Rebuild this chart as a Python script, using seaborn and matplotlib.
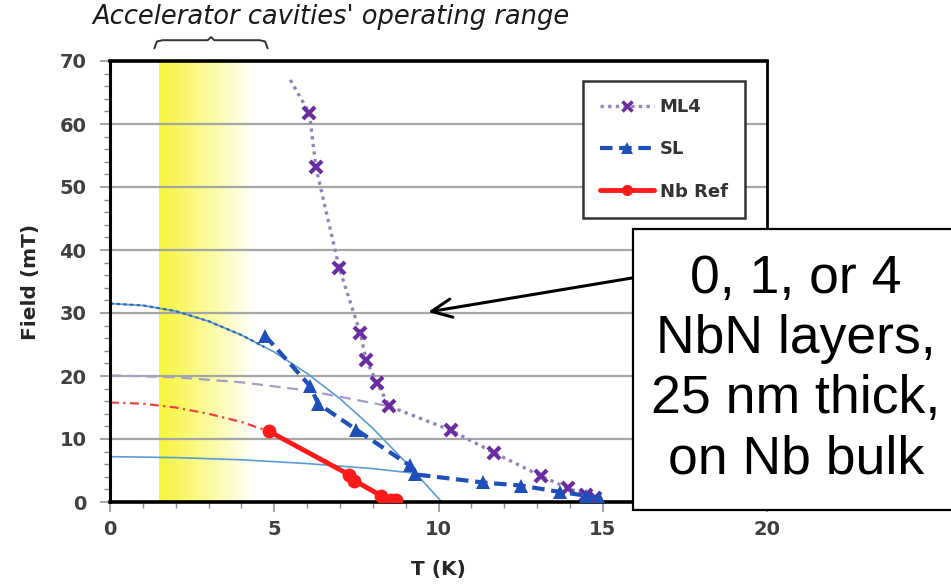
import matplotlib
matplotlib.use("Agg")
import matplotlib.pyplot as plt
import numpy as np
import seaborn as sns
from matplotlib.lines import Line2D
from matplotlib.patches import Rectangle
from matplotlib.colors import LinearSegmentedColormap

# ---- measured data -------------------------------------------------------
ml4_T = [6.07, 6.27, 6.98, 7.62, 7.80, 8.13, 8.50, 10.37, 11.70, 13.13, 13.94, 14.50, 14.75]
ml4_H = [61.7, 53.1, 37.1, 26.8, 22.5, 18.9, 15.2, 11.4, 7.8, 4.1, 2.2, 1.1, 0.7]
ml4_ext_T = [5.49, 6.07]
ml4_ext_H = [67.0, 61.7]

sl_T = [4.72, 6.09, 6.34, 7.49, 9.12, 9.27, 11.35, 12.52, 13.69, 14.50, 14.90]
sl_H = [26.4, 18.4, 15.6, 11.5, 5.8, 4.4, 3.1, 2.6, 1.6, 1.0, 0.6]

nb_T = [4.85, 7.29, 7.44, 8.25, 8.55, 8.70]
nb_H = [11.2, 4.3, 3.4, 1.0, 0.3, 0.3]

# critical-field curves H(T)
sl_fit_T = [0, 1, 2, 3, 4, 5, 6, 7, 8, 9, 10.1]
sl_fit_H = [31.5, 31.2, 30.3, 28.7, 26.5, 23.8, 20.4, 16.4, 11.7, 6.3, 0.0]
sl_fit_dotted_T = [0, 1, 2, 3, 4, 4.7]
sl_fit_dotted_H = [31.5, 31.2, 30.3, 28.7, 26.5, 24.6]
ml4_fit_T = [0, 2, 4, 6, 8, 8.5]
ml4_fit_H = [20.1, 19.8, 19.0, 17.7, 15.7, 15.2]
nb_fit_T = [0, 1, 2, 3, 4, 4.85]
nb_fit_H = [15.8, 15.6, 15.0, 14.0, 12.7, 11.2]
low_fit_T = [0, 2, 4, 6, 8, 9.2]
low_fit_H = [7.2, 7.05, 6.7, 6.1, 5.3, 4.6]

band_T = [1.5, 4.4]          # operating temperature range
brace_T = [1.35, 4.8]

series_labels = ["ML4", "SL", "Nb Ref"]
x_ticks = [0, 5, 10, 15, 20]
y_ticks = [0, 10, 20, 30, 40, 50, 60, 70]

# ---- styling -------------------------------------------------------------
sns.set_theme(style="white")
plt.rcParams["font.family"] = ["DejaVu Sans"]

C_ML4_LINE = "#9384bd"
C_ML4_MK = "#6a2ca0"
C_SL = "#1f4fb8"
C_NB = "#ff1a1a"
C_FIT_BLUE = "#5b9bd5"
C_FIT_BLUE_DARK = "#2e6db4"

fig = plt.figure(figsize=(9.51, 5.86), dpi=100)
ax = fig.add_axes([110 / 951, 1 - 502 / 586, (767 - 110) / 951, (502 - 61) / 586])
ax.set_xlim(0, 20)
ax.set_ylim(0, 70)

# operating-range band, yellow fading to white
cmap = LinearSegmentedColormap.from_list("band", ["#f8f53a", "#fbfa9a", "#ffffff"])
grad = np.linspace(0, 1, 256).reshape(1, -1)
ax.imshow(grad, cmap=cmap, extent=[band_T[0], band_T[1], 0, 70],
          aspect="auto", zorder=0, interpolation="bilinear")

# horizontal gridlines
for yv in y_ticks[1:-1]:
    ax.axhline(yv, color="#a6a6a6", lw=1.6, zorder=1)

# fitted curves
sns.lineplot(x=sl_fit_T, y=sl_fit_H, ax=ax, sort=False, estimator=None,
             color=C_FIT_BLUE, lw=1.2, zorder=2)
sns.lineplot(x=sl_fit_dotted_T, y=sl_fit_dotted_H, ax=ax, sort=False, estimator=None,
             color=C_FIT_BLUE_DARK, lw=1.6, linestyle=(0, (1.5, 1.5)), zorder=2)
sns.lineplot(x=ml4_fit_T, y=ml4_fit_H, ax=ax, sort=False, estimator=None,
             color="#a79cc6", lw=1.6, linestyle=(0, (5, 3)), zorder=2)
sns.lineplot(x=nb_fit_T, y=nb_fit_H, ax=ax, sort=False, estimator=None,
             color="#f04040", lw=1.6, linestyle=(0, (4, 2, 1, 2)), zorder=2)
sns.lineplot(x=low_fit_T, y=low_fit_H, ax=ax, sort=False, estimator=None,
             color=C_FIT_BLUE, lw=1.2, zorder=2)

# measured series
sns.lineplot(x=ml4_ext_T, y=ml4_ext_H, ax=ax, sort=False, estimator=None,
             color=C_ML4_LINE, lw=2.4, linestyle=(0, (1, 1.3)), zorder=3)
sns.lineplot(x=ml4_T, y=ml4_H, ax=ax, sort=False, estimator=None,
             color=C_ML4_LINE, lw=2.4, linestyle=(0, (1, 1.3)), zorder=3,
             marker="x", markersize=9, markeredgewidth=3,
             markeredgecolor=C_ML4_MK, markerfacecolor=C_ML4_MK)
sns.lineplot(x=sl_T, y=sl_H, ax=ax, sort=False, estimator=None,
             color=C_SL, lw=3, linestyle=(0, (3, 1.6)), zorder=4,
             marker="^", markersize=10, markeredgewidth=0, markerfacecolor=C_SL)
sns.lineplot(x=nb_T, y=nb_H, ax=ax, sort=False, estimator=None,
             color=C_NB, lw=3.5, zorder=5,
             marker="o", markersize=10, markeredgewidth=0, markerfacecolor=C_NB)

# axes, ticks, spines
ax.set_xticks(x_ticks)
ax.set_xticks(np.arange(0, 21, 1), minor=True)
ax.set_yticks(y_ticks)
ax.set_yticks(np.arange(0, 71, 2), minor=True)
ax.tick_params(axis="both", which="both", bottom=True, left=True, top=False, right=False,
               direction="out", color="#8c8c8c")
ax.tick_params(axis="both", which="major", length=7, width=1.1)
ax.tick_params(axis="both", which="minor", length=4, width=1.0)
ax.tick_params(axis="x", which="major", pad=6)
ax.tick_params(axis="y", which="major", pad=10)
for lab in ax.get_xticklabels() + ax.get_yticklabels():
    lab.set_fontsize(14)
    lab.set_fontweight("bold")
    lab.set_color("#404040")
for side, lw in [("left", 2.2), ("bottom", 2.6), ("top", 2.6), ("right", 2.0)]:
    ax.spines[side].set_visible(True)
    ax.spines[side].set_color("black")
    ax.spines[side].set_linewidth(lw)

ax.set_xlabel("T (K)", fontsize=14.5, fontweight="bold", color="#262626", labelpad=15)
ax.set_ylabel("Field (mT)", fontsize=14.5, fontweight="bold", color="#262626", labelpad=14)

# legend
handles = [
    Line2D([], [], color=C_ML4_LINE, lw=2.4, linestyle=(0, (1, 1.3)), marker="x",
           markersize=7, markeredgewidth=2.5, markeredgecolor=C_ML4_MK),
    Line2D([], [], color=C_SL, lw=3, linestyle=(0, (3, 1.6)), marker="^",
           markersize=8, markeredgewidth=0, markerfacecolor=C_SL),
    Line2D([], [], color=C_NB, lw=3.5, marker="o", markersize=8,
           markeredgewidth=0, markerfacecolor=C_NB),
]
leg = ax.legend(handles, series_labels, loc="upper left", bbox_to_anchor=(0.72, 0.955),
                frameon=True, fancybox=False, edgecolor="#333333", framealpha=1,
                handlelength=3.0, handletextpad=0.3, labelspacing=1.35,
                borderpad=0.95, borderaxespad=0,
                prop={"size": 13, "weight": "bold"})
leg.get_frame().set_linewidth(1.8)
for t in leg.get_texts():
    t.set_color("#333333")

# note and brace over the band
fig.text(92 / 951, 1 - 17 / 586, "Accelerator cavities' operating range",
         fontsize=18.5, style="italic", color="#1a1a1a", ha="left", va="center")
b0, b1 = brace_T
bm = (b0 + b1) / 2
brace_x = [b0, b0 + 0.08, b0 + 0.25, bm - 0.1, bm, bm + 0.1, b1 - 0.25, b1 - 0.08, b1]
brace_y = [72.0, 73.1, 73.3, 73.3, 73.8, 73.3, 73.3, 73.1, 72.0]
ax.plot(brace_x, brace_y, color="#333333", lw=1.4, clip_on=False, zorder=6)

# callout box with arrow
box = Rectangle((633 / 951, 1 - 510 / 586), 0.4, (510 - 229) / 586,
                transform=fig.transFigure, facecolor="white", edgecolor="black",
                lw=1.6, zorder=10, clip_on=False)
fig.add_artist(box)
fig.text(796 / 951, 1 - 369 / 586, "0, 1, or 4\nNbN layers,\n25 nm thick,\non Nb bulk",
         family="Liberation Sans", fontsize=38.5, ha="center", va="center",
         linespacing=1.26, color="black", zorder=11)
ax.annotate("", xy=(428 / 951, 1 - 312 / 586), xycoords="figure fraction",
            xytext=(668 / 951, 1 - 272 / 586), textcoords="figure fraction",
            arrowprops=dict(arrowstyle="->,head_length=1.2,head_width=0.55",
                            color="black", lw=2.2, shrinkA=0, shrinkB=0),
            zorder=12)

fig.savefig("out.png", dpi=100)
